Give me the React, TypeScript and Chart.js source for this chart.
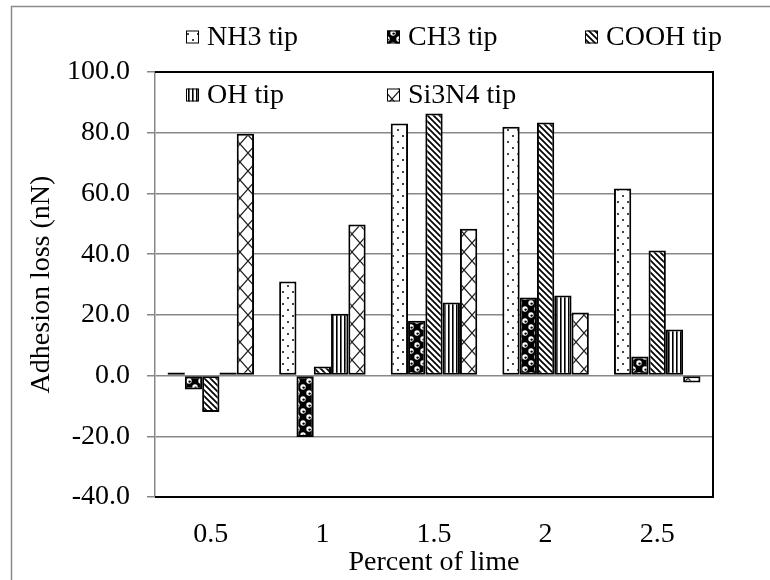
import React, { useEffect, useRef } from 'react';
import { Chart, registerables } from 'chart.js';
Chart.register(...registerables);

const categories = ['0.5', '1', '1.5', '2', '2.5'];
const nh3Tip = [1.0, 31.0, 83.0, 82.0, 61.6];
const ch3Tip = [-4.6, -20.2, 18.1, 25.7, 6.3];
const coohTip = [-12.0, 3.0, 86.3, 83.4, 41.2];
const ohTip = [1.0, 20.4, 24.1, 26.4, 15.2];
const si3n4Tip = [79.7, 49.8, 48.4, 20.8, -2.3];
const seriesLabels = ['NH3 tip', 'CH3 tip', 'COOH tip', 'OH tip', 'Si3N4 tip'];
const yTickValues = [-40, -20, 0, 20, 40, 60, 80, 100];

const FONT_FAMILY = "'Liberation Serif', 'Times New Roman', serif";
const GRID = '#878787';

function makeTile(w: number, h: number, draw: (c: CanvasRenderingContext2D) => void) {
  const cv = document.createElement('canvas');
  cv.width = w;
  cv.height = h;
  const c = cv.getContext('2d')!;
  c.fillStyle = '#fff';
  c.fillRect(0, 0, w, h);
  draw(c);
  return cv;
}

function makePatterns(ctx: CanvasRenderingContext2D) {
  const dots = makeTile(10, 12, (c) => {
    c.fillStyle = '#444';
    c.fillRect(2, 3, 2, 2);
    c.fillRect(7, 9, 2, 2);
  });
  const sphere = makeTile(12, 12, (c) => {
    c.fillStyle = '#000';
    c.fillRect(0, 0, 12, 12);
    c.fillStyle = '#fff';
    c.beginPath(); c.arc(3, 3, 2.7, 0, Math.PI * 2); c.fill();
    c.beginPath(); c.arc(9, 9, 2.7, 0, Math.PI * 2); c.fill();
    c.fillStyle = '#000';
    c.beginPath(); c.arc(3.6, 3.6, 1.2, 0, Math.PI * 2); c.fill();
    c.beginPath(); c.arc(9.6, 9.6, 1.2, 0, Math.PI * 2); c.fill();
  });
  const diag = makeTile(6, 6, (c) => {
    c.strokeStyle = '#000';
    c.lineWidth = 1.7;
    c.beginPath();
    c.moveTo(-1, -1); c.lineTo(7, 7);
    c.moveTo(5, -1); c.lineTo(7, 1);
    c.moveTo(-1, 5); c.lineTo(1, 7);
    c.stroke();
  });
  const vert = makeTile(4, 4, (c) => {
    c.fillStyle = '#000';
    c.fillRect(0, 0, 1.6, 4);
  });
  const cross = makeTile(16, 18, (c) => {
    c.strokeStyle = '#222';
    c.lineWidth = 1.2;
    c.beginPath();
    c.moveTo(0, 0); c.lineTo(16, 18);
    c.moveTo(16, 0); c.lineTo(0, 18);
    c.stroke();
  });
  return [dots, sphere, diag, vert, cross].map((t) => ctx.createPattern(t, 'repeat')!);
}

const legendSlots = [
  [186, 37], [387, 37], [585, 37], [186, 95], [387, 95],
];

export default function App() {
  const ref = useRef<HTMLCanvasElement>(null);
  useEffect(() => {
    const canvas = ref.current!;
    const ctx = canvas.getContext('2d')!;
    const pats = makePatterns(ctx);
    const values = [nh3Tip, ch3Tip, coohTip, ohTip, si3n4Tip];
    const font = { family: FONT_FAMILY, size: 28 };

    const framePlugin = {
      id: 'frame',
      beforeDraw(chart: any) {
        const c = chart.ctx;
        c.save();
        c.strokeStyle = '#8a8a8a';
        c.lineWidth = 1.5;
        c.beginPath();
        c.moveTo(11.5, 580);
        c.lineTo(11.5, 6.5);
        c.lineTo(770, 6.5);
        c.stroke();
        c.restore();
      },
      afterDatasetsDraw(chart: any) {
        const { left, right, top, bottom } = chart.chartArea;
        const c = chart.ctx;
        c.save();
        c.strokeStyle = '#000';
        c.lineWidth = 2;
        c.beginPath();
        c.moveTo(left, top);
        c.lineTo(right, top);
        c.lineTo(right, bottom);
        c.lineTo(left, bottom);
        c.stroke();
        c.restore();
      },
      afterDraw(chart: any) {
        const c = chart.ctx;
        c.save();
        c.font = `28px ${FONT_FAMILY}`;
        c.textBaseline = 'middle';
        chart.data.datasets.forEach((ds: any, i: number) => {
          const [x, y] = legendSlots[i];
          c.fillStyle = ds.backgroundColor;
          c.fillRect(x, y - 6.5, 13, 13);
          c.strokeStyle = '#000';
          c.lineWidth = 1;
          c.strokeRect(x + 0.5, y - 6, 12, 12);
          c.fillStyle = '#000';
          c.fillText(ds.label, x + 21, y + 1);
        });
        c.restore();
      },
    };

    const chart = new Chart(ctx, {
      type: 'bar',
      data: {
        labels: categories,
        datasets: values.map((v, i) => ({
          label: seriesLabels[i],
          data: v,
          backgroundColor: pats[i] as any,
          borderColor: '#000',
          borderWidth: 2,
          borderSkipped: false,
          categoryPercentage: 0.775,
          barPercentage: 1.0,
        })),
      },
      options: {
        responsive: false,
        animation: false,
        devicePixelRatio: 1,
        layout: { padding: { top: 72, right: 57, left: 0, bottom: 0 } },
        plugins: { legend: { display: false }, tooltip: { enabled: false } },
        scales: {
          x: {
            grid: { display: false, drawTicks: false },
            border: { display: false },
            ticks: { font, color: '#000', padding: 21, maxRotation: 0 },
            title: {
              display: true,
              text: 'Percent of lime',
              font,
              color: '#000',
              padding: { top: 0, bottom: 1 },
            },
            afterFit: (s: any) => { s.height = 83; },
          },
          y: {
            min: -40,
            max: 100,
            afterBuildTicks: (s: any) => { s.ticks = yTickValues.map((v) => ({ value: v })); },
            ticks: {
              font,
              color: '#000',
              padding: 17,
              callback: (v: any) => Number(v).toFixed(1),
            },
            grid: { color: GRID, lineWidth: 1.5, tickLength: 8 },
            border: { color: GRID, width: 1.5 },
            title: {
              display: true,
              text: 'Adhesion loss (nN)',
              font,
              color: '#000',
              padding: { top: 25, bottom: 0 },
            },
            afterFit: (s: any) => { s.width = 155; },
          },
        },
      },
      plugins: [framePlugin],
    } as any);
    return () => chart.destroy();
  }, []);
  return (
    <div style={{ position: 'fixed', left: 0, top: 0, width: 770, height: 580, background: '#fff' }}>
      <canvas ref={ref} width={770} height={580} style={{ width: 770, height: 580, display: 'block' }} />
    </div>
  );
}
